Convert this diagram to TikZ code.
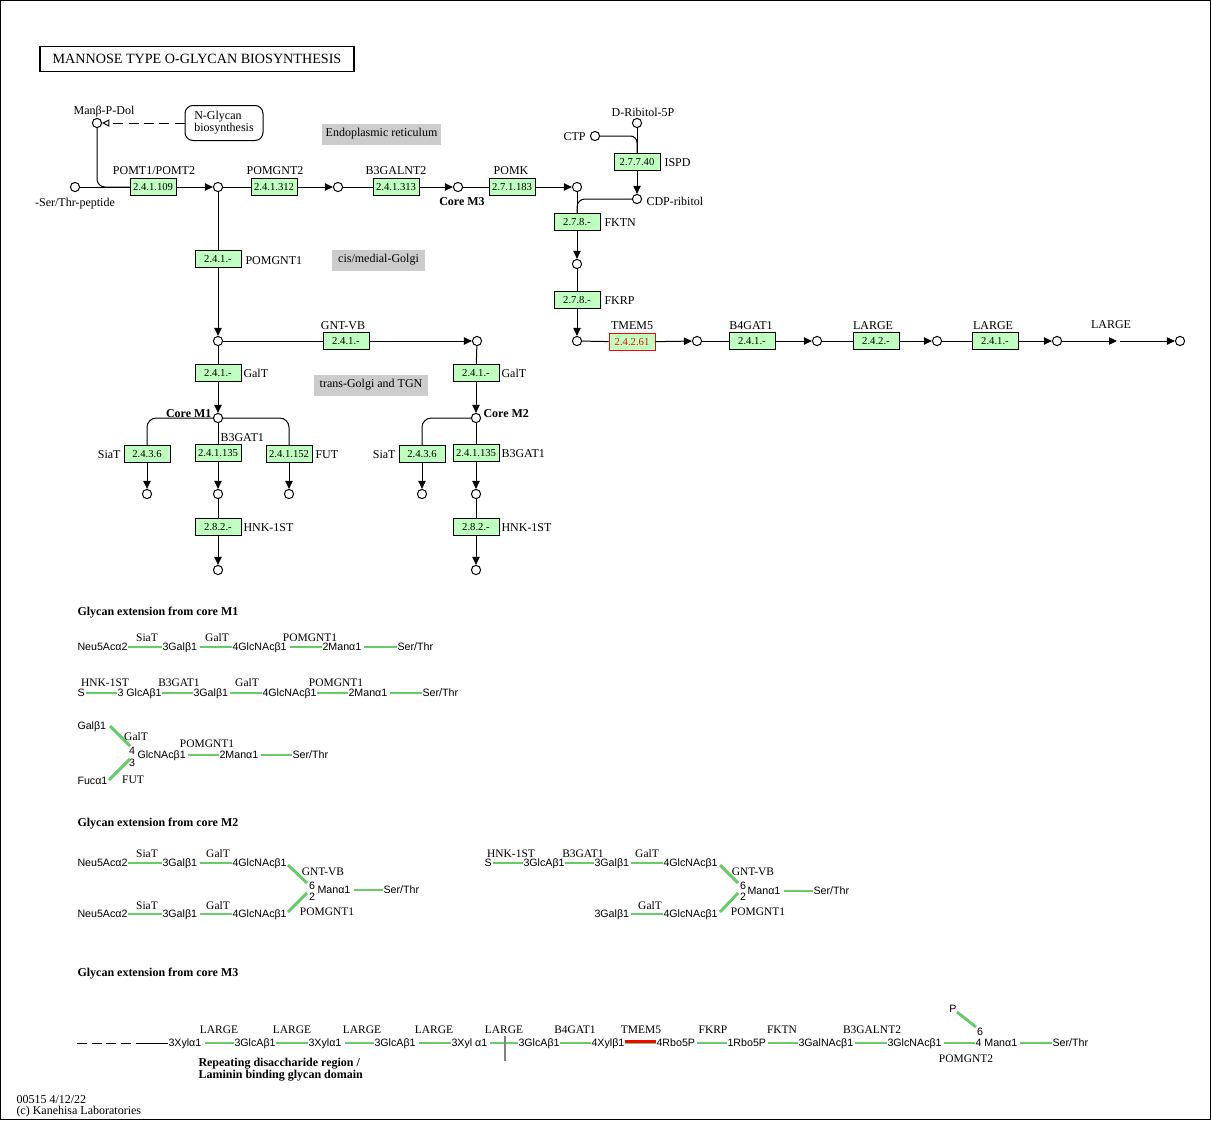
\documentclass[tikz,border=0pt]{standalone}
\usepackage{fontspec}
\setmainfont{Liberation Serif}
\newfontfamily\glyfont{Liberation Sans}
\usetikzlibrary{arrows.meta}
\definecolor{enzgreen}{RGB}{191,255,191}
\definecolor{glygreen}{RGB}{102,204,102}
\definecolor{regiongray}{RGB}{204,204,204}
\begin{document}
\begin{tikzpicture}[x=0.75pt,y=-0.75pt,line width=0.75pt,
 enz/.style={draw, fill=enzgreen, minimum width=34.5pt, minimum height=12.75pt, inner sep=0pt, font=\fontsize{8}{9}\selectfont},
 cpd/.style={circle, draw, fill=white, minimum size=6.9pt, inner sep=0pt},
 lbl/.style={inner sep=0pt, font=\fontsize{9}{10}\selectfont},
 blbl/.style={inner sep=0pt, font=\fontsize{9}{10}\selectfont\bfseries},
 region/.style={fill=regiongray, minimum height=15.75pt, inner sep=0pt, font=\fontsize{9}{10}\selectfont},
 rxn/.style={-{Triangle[length=6pt,width=5.5pt]}},
 gt/.style={inner sep=0pt, anchor=west, font=\glyfont\fontsize{8}{9}\selectfont, text height=6.2pt, text depth=1.2pt},
 num/.style={inner sep=0pt, font=\glyfont\fontsize{8}{9}\selectfont},
 el/.style={inner sep=0pt, font=\fontsize{8.6}{10}\selectfont},
 gl/.style={draw=glygreen, line width=2.2pt}]
\useasboundingbox (0,0) rectangle (1212,1121);
\draw (0.5,0.5) rectangle (1210.5,1119.5);

% title
\node[draw, line width=1.4pt, minimum width=235.5pt, minimum height=18.75pt, inner sep=0pt, font=\fontsize{10.6}{12}\selectfont] (title) at (197,59) {MANNOSE TYPE O-GLYCAN BIOSYNTHESIS};

% regions
\node[region, minimum width=89.25pt] (er) at (381.5,134) {Endoplasmic reticulum};
\node[region, minimum width=69.75pt] (cmg) at (378.5,260) {cis/medial-Golgi};
\node[region, minimum width=85.5pt] (tgn) at (371,385) {trans-Golgi and TGN};

% top row
\node[cpd] (sst) at (75,187) {};
\node[lbl] (sstl) at (75,204) {-Ser/Thr-peptide};
\node[cpd] (mpd) at (97,123) {};
\node[lbl] (mpdl) at (104,112) {Manβ-P-Dol};
\node[draw, rounded corners=6pt, minimum width=58.5pt, minimum height=26.25pt, inner sep=0pt, align=left, font=\fontsize{9}{9}\selectfont] (ngl) at (224,123) {N-Glycan\\biosynthesis};
\draw[dashed, dash pattern=on 7.5pt off 4pt, -{Triangle[open,length=5.5pt,width=5.5pt]}] (ngl) -- (mpd);

\node[enz] (e1) at (153,187) {2.4.1.109};
\node[lbl] (e1l) at (154,171) {POMT1/POMT2};
\node[cpd] (c1) at (218,187) {};
\draw (sst) -- (e1);
\draw[rxn] (e1) -- (c1);
\draw[rounded corners=6pt] (mpd) |- (e1.west);

\node[enz] (e2) at (274,187) {2.4.1.312};
\node[lbl] (e2l) at (275,171) {POMGNT2};
\node[cpd] (c2) at (338,187) {};
\draw (c1) -- (e2);
\draw[rxn] (e2) -- (c2);

\node[enz] (e3) at (396,187) {2.4.1.313};
\node[lbl] (e3l) at (396,171) {B3GALNT2};
\node[cpd] (c3) at (458,187) {};
\node[blbl] (c3l) at (462,201.5) {Core M3};
\draw (c2) -- (e3);
\draw[rxn] (e3) -- (c3);

\node[enz] (e4) at (512,187) {2.7.1.183};
\node[lbl] (e4l) at (511,171) {POMK};
\node[cpd] (c4) at (577,187) {};
\draw (c3) -- (e4);
\draw[rxn] (e4) -- (c4);

% ribitol
\node[cpd] (rib) at (637,123) {};
\node[lbl] (ribl) at (643,112) {D-Ribitol-5P};
\node[cpd] (ctp) at (595,136) {};
\node[lbl, anchor=east] (ctpl) at (586,137) {CTP};
\node[enz] (e5) at (637,162) {2.7.7.40};
\node[lbl, anchor=west] (e5l) at (664,162.5) {ISPD};
\node[cpd] (cdp) at (637,199) {};
\node[lbl, anchor=west] (cdpl) at (646,201.5) {CDP-ribitol};
\draw (rib) -- (e5);
\draw[rounded corners=5pt] (ctp) -| (e5.north);
\draw[rxn] (e5) -- (cdp);

\node[enz] (e6) at (577,222) {2.7.8.-};
\node[lbl, anchor=west] (e6l) at (604,222.5) {FKTN};
\draw (c4) -- (e6);
\draw[rounded corners=6pt] (cdp) -| (e6.north);
\node[cpd] (c5) at (577,264) {};
\draw[rxn] (e6) -- (c5);
\node[enz] (e7) at (577,300) {2.7.8.-};
\node[lbl, anchor=west] (e7l) at (604,300.5) {FKRP};
\node[cpd] (c6) at (577,341) {};
\draw (c5) -- (e7);
\draw[rxn] (e7) -- (c6);

% TMEM5 row
\node[enz, draw=red, text=red] (e8) at (632,342) {2.4.2.61};
\node[lbl] (e8l) at (632,326) {TMEM5};
\node[cpd] (c7) at (697,341) {};
\draw (c6) -- (e8);
\draw[rxn] (e8) -- (c7);
\node[enz] (e9) at (752,341) {2.4.1.-};
\node[lbl] (e9l) at (751,326) {B4GAT1};
\node[cpd] (c8) at (817,341) {};
\draw (c7) -- (e9);
\draw[rxn] (e9) -- (c8);
\node[enz] (e10) at (876,341) {2.4.2.-};
\node[lbl] (e10l) at (873,326) {LARGE};
\node[cpd] (c9) at (937,341) {};
\draw (c8) -- (e10);
\draw[rxn] (e10) -- (c9);
\node[enz] (e11) at (995,341) {2.4.1.-};
\node[lbl] (e11l) at (993,326) {LARGE};
\node[cpd] (c10) at (1057,341) {};
\draw (c9) -- (e11);
\draw[rxn] (e11) -- (c10);
\coordinate (gapa) at (1117,341);
\coordinate (gapb) at (1120,341);
\node[cpd] (c11) at (1180,341) {};
\node[lbl] (c11l) at (1111,325) {LARGE};
\draw[rxn] (c10) -- (gapa);
\draw[rxn] (gapb) -- (c11);

% left vertical
\node[enz] (e12) at (218,259) {2.4.1.-};
\node[lbl, anchor=west] (e12l) at (245,260.5) {POMGNT1};
\node[cpd] (c12) at (218,341) {};
\draw (c1) -- (e12);
\draw[rxn] (e12) -- (c12);
\node[enz] (e13) at (346,341) {2.4.1.-};
\node[lbl] (e13l) at (343,326) {GNT-VB};
\node[cpd] (c13) at (477,341) {};
\draw (c12) -- (e13);
\draw[rxn] (e13) -- (c13);
\node[enz] (e14) at (218,373) {2.4.1.-};
\node[lbl, anchor=west] (e14l) at (243,373.5) {GalT};
\node[cpd] (m1) at (218,418) {};
\draw (c12) -- (e14);
\draw[rxn] (e14) -- (m1);
\node[enz] (e15) at (476,373) {2.4.1.-};
\node[lbl, anchor=west] (e15l) at (501,373.5) {GalT};
\node[cpd] (m2) at (476,418) {};
\draw (c13) -- (e15);
\draw[rxn] (e15) -- (m2);

% Core M1
\node[blbl, anchor=east] (m1l) at (212,413.5) {Core M1};
\node[enz] (e16) at (147,454) {2.4.3.6};
\node[lbl, anchor=east] (e16l) at (121,454.5) {SiaT};
\node[cpd] (c16) at (147,494) {};
\draw[rounded corners=7pt] (m1) -| (e16.north);
\draw[rxn] (e16) -- (c16);
\node[enz] (e17) at (218,453) {2.4.1.135};
\node[lbl, anchor=west] (e17l) at (220,438) {B3GAT1};
\node[cpd] (c17) at (218,494) {};
\draw (m1) -- (e17);
\draw[rxn] (e17) -- (c17);
\node[enz] (e18) at (218,527) {2.8.2.-};
\node[lbl, anchor=west] (e18l) at (243,527.5) {HNK-1ST};
\node[cpd] (c18) at (218,570) {};
\draw (c17) -- (e18);
\draw[rxn] (e18) -- (c18);
\node[enz] (e19) at (289,454) {2.4.1.152};
\node[lbl, anchor=west] (e19l) at (315,454.5) {FUT};
\node[cpd] (c19) at (289,494) {};
\draw[rounded corners=7pt] (m1) -| (e19.north);
\draw[rxn] (e19) -- (c19);

% Core M2
\node[blbl, anchor=west] (m2l) at (483,413.5) {Core M2};
\node[enz] (e20) at (422,454) {2.4.3.6};
\node[lbl, anchor=east] (e20l) at (396,454.5) {SiaT};
\node[cpd] (c20) at (422,494) {};
\draw[rounded corners=7pt] (m2) -| (e20.north);
\draw[rxn] (e20) -- (c20);
\node[enz] (e21) at (476,453) {2.4.1.135};
\node[lbl, anchor=west] (e21l) at (501,453.5) {B3GAT1};
\node[cpd] (c21) at (476,494) {};
\draw (m2) -- (e21);
\draw[rxn] (e21) -- (c21);
\node[enz] (e22) at (476,527) {2.8.2.-};
\node[lbl, anchor=west] (e22l) at (501,527.5) {HNK-1ST};
\node[cpd] (c22) at (476,570) {};
\draw (c21) -- (e22);
\draw[rxn] (e22) -- (c22);

% ===== Glycan extension from core M1 =====
\node[blbl, anchor=west] (s1) at (77,612.5) {Glycan extension from core M1};
\node[gt] (a1) at (77,647) {Neu5Acα2};
\node[gt] (a2) at (162,647) {3Galβ1};
\node[gt] (a3) at (232,647) {4GlcNAcβ1};
\node[gt] (a4) at (322,647) {2Manα1};
\node[gt] (a5) at (397,647) {Ser/Thr};
\draw[gl] (a1.east) -- (a2.west);
\draw[gl] ([xshift=2pt]a2.east) -- (a3.west);
\draw[gl] ([xshift=2pt]a3.east) -- (a4.west);
\draw[gl] ([xshift=2pt]a4.east) -- (a5.west);
\node[el] (a1l) at (147,638) {SiaT};
\node[el] (a2l) at (217,638) {GalT};
\node[el] (a3l) at (310,638) {POMGNT1};

\node[gt] (b1) at (77,693) {S};
\node[gt] (b2) at (117,693) {3 GlcAβ1};
\node[gt] (b3) at (193,693) {3Galβ1};
\node[gt] (b4) at (262,693) {4GlcNAcβ1};
\node[gt] (b5) at (348,693) {2Manα1};
\node[gt] (b6) at (422,693) {Ser/Thr};
\draw[gl] ([xshift=1pt]b1.east) -- (b2.west);
\draw[gl] (b2.east) -- (b3.west);
\draw[gl] ([xshift=1pt]b3.east) -- (b4.west);
\draw[gl] (b4.east) -- (b5.west);
\draw[gl] ([xshift=2pt]b5.east) -- (b6.west);
\node[el] (b1l) at (105,683) {HNK-1ST};
\node[el] (b2l) at (179,683) {B3GAT1};
\node[el] (b3l) at (247,683) {GalT};
\node[el] (b4l) at (336,683) {POMGNT1};

\node[gt] (r1) at (77,726) {Galβ1};
\node[gt] (r2) at (77,781) {Fucα1};
\node[num] (r4) at (132,751) {4};
\node[num] (r3) at (132,763) {3};
\node[gt] (r5) at (137,755) {GlcNAcβ1};
\node[gt] (r6) at (219,755) {2Manα1};
\node[gt] (r7) at (292,755) {Ser/Thr};
\coordinate (r1e) at (110,726);
\coordinate (r4e) at (130,746);
\coordinate (r2e) at (109,780);
\coordinate (r3e) at (130,759);
\draw[gl] (r1e) -- (r4e);
\draw[gl] (r2e) -- (r3e);
\draw[gl] ([xshift=1pt]r5.east) -- (r6.west);
\draw[gl] ([xshift=2pt]r6.east) -- (r7.west);
\node[el] (r1l) at (136,737) {GalT};
\node[el] (r2l) at (133,780) {FUT};
\node[el] (r5l) at (207,744) {POMGNT1};

% ===== Glycan extension from core M2 =====
\node[blbl, anchor=west] (s2) at (77,823.5) {Glycan extension from core M2};
\node[gt] (d1) at (77,863) {Neu5Acα2};
\node[gt] (d2) at (162,863) {3Galβ1};
\node[gt] (d3) at (232,863) {4GlcNAcβ1};
\draw[gl] (d1.east) -- (d2.west);
\draw[gl] ([xshift=2pt]d2.east) -- (d3.west);
\node[el] (d1l) at (147,854) {SiaT};
\node[el] (d2l) at (218,854) {GalT};
\node[gt] (f1) at (77,914) {Neu5Acα2};
\node[gt] (f2) at (162,914) {3Galβ1};
\node[gt] (f3) at (232,914) {4GlcNAcβ1};
\draw[gl] (f1.east) -- (f2.west);
\draw[gl] ([xshift=2pt]f2.east) -- (f3.west);
\node[el] (f1l) at (147,906) {SiaT};
\node[el] (f2l) at (218,906) {GalT};
\node[num] (m6) at (312,886) {6};
\node[num] (m2n) at (312,897) {2};
\node[gt] (mn) at (317,890) {Manα1};
\node[gt] (ms) at (383,890) {Ser/Thr};
\draw[gl] ([xshift=2pt]mn.east) -- (ms.west);
\coordinate (d3e) at (288,865);
\coordinate (m6e) at (307,883);
\coordinate (f3e) at (288,912);
\coordinate (m2e) at (307,893);
\draw[gl] (d3e) -- (m6e);
\draw[gl] (f3e) -- (m2e);
\node[el] (d3l) at (323,872) {GNT-VB};
\node[el] (f3l) at (327,912) {POMGNT1};

\node[gt] (h1) at (484,863) {S};
\node[gt] (h2) at (523,863) {3GlcAβ1};
\node[gt] (h3) at (594,863) {3Galβ1};
\node[gt] (h4) at (663,863) {4GlcNAcβ1};
\draw[gl] ([xshift=1pt]h1.east) -- (h2.west);
\draw[gl] (h2.east) -- (h3.west);
\draw[gl] ([xshift=1pt]h3.east) -- (h4.west);
\node[el] (h1l) at (511,854) {HNK-1ST};
\node[el] (h2l) at (583,854) {B3GAT1};
\node[el] (h3l) at (647,854) {GalT};
\node[gt] (k3) at (594,914) {3Galβ1};
\node[gt] (k4) at (663,914) {4GlcNAcβ1};
\draw[gl] ([xshift=1pt]k3.east) -- (k4.west);
\node[el] (k3l) at (650,906) {GalT};
\node[num] (n6) at (743,886) {6};
\node[num] (n2) at (743,897) {2};
\node[gt] (nm) at (747,891) {Manα1};
\node[gt] (ns) at (813,891) {Ser/Thr};
\draw[gl] ([xshift=2pt]nm.east) -- (ns.west);
\coordinate (h4e) at (720,865);
\coordinate (n6e) at (738,883);
\coordinate (k4e) at (720,912);
\coordinate (n2e) at (738,893);
\draw[gl] (h4e) -- (n6e);
\draw[gl] (k4e) -- (n2e);
\node[el] (h4l) at (753,872) {GNT-VB};
\node[el] (k4l) at (758,912) {POMGNT1};

% ===== Glycan extension from core M3 =====
\node[blbl, anchor=west] (s3) at (77,973.5) {Glycan extension from core M3};
\coordinate (q0) at (77,1043);
\coordinate (q1) at (131,1043);
\coordinate (q2) at (136,1043);
\draw[dash pattern=on 7.5pt off 3.4pt] (q0) -- (q1);
\node[gt] (p1) at (168,1043) {3Xylα1};
\node[gt] (p2) at (234,1043) {3GlcAβ1};
\node[gt] (p3) at (308,1043) {3Xylα1};
\node[gt] (p4) at (374,1043) {3GlcAβ1};
\node[gt] (p5) at (451,1043) {3Xyl α1};
\node[gt] (p6) at (518,1043) {3GlcAβ1};
\node[gt] (p7) at (591,1043) {4Xylβ1};
\node[gt] (p8) at (656,1043) {4Rbo5P};
\node[gt] (p9) at (727,1043) {1Rbo5P};
\node[gt] (p10) at (798,1043) {3GalNAcβ1};
\node[gt] (p11) at (887,1043) {3GlcNAcβ1};
\node[gt] (p12) at (975,1043) {4 Manα1};
\node[gt] (p13) at (1052,1043) {Ser/Thr};
\draw (q2) -- (p1.west);
\draw[gl] ([xshift=2pt]p1.east) -- (p2.west);
\draw[gl] (p2.east) -- (p3.west);
\draw[gl] ([xshift=2pt]p3.east) -- (p4.west);
\draw[gl] ([xshift=2pt]p4.east) -- (p5.west);
\draw[gl] ([xshift=2pt]p5.east) -- (p6.west);
\draw[gl] (p6.east) -- (p7.west);
\draw[gl] (p7.east) -- (p8.west);
\draw[draw=red, line width=1.8pt] ([yshift=1.1pt]p7.east) -- ([yshift=1.1pt]p8.west);
\draw[gl] ([xshift=1pt]p8.east) -- (p9.west);
\draw[gl] ([xshift=1pt]p9.east) -- (p10.west);
\draw[gl] ([xshift=1pt]p10.east) -- (p11.west);
\draw[gl] ([xshift=1pt]p11.east) -- (p12.west);
\draw[gl] ([xshift=2pt]p12.east) -- (p13.west);
\coordinate (tk1) at (505,1036);
\coordinate (tk2) at (505,1061);
\draw[draw=black!50, line width=1.3pt] (tk1) -- (tk2);
\node[el] (l1) at (219,1030) {LARGE};
\node[el] (l2) at (292,1030) {LARGE};
\node[el] (l3) at (362,1030) {LARGE};
\node[el] (l4) at (434,1030) {LARGE};
\node[el] (l5) at (504,1030) {LARGE};
\node[el] (l6) at (575,1030) {B4GAT1};
\node[el] (l7) at (641,1030) {TMEM5};
\node[el] (l8) at (713,1030) {FKRP};
\node[el] (l9) at (782,1030) {FKTN};
\node[el] (l10) at (872,1030) {B3GALNT2};
\node[num] (pp) at (953,1009) {P};
\node[num] (p6n) at (980,1032) {6};
\coordinate (ppe) at (957,1012);
\coordinate (p6e) at (976,1027);
\draw[gl] (ppe) -- (p6e);
\node[el] (l11) at (966,1059) {POMGNT2};
\node[inner sep=0pt, anchor=north west, align=left, font=\fontsize{9}{9}\selectfont\bfseries] (rep) at (198,1058) {Repeating disaccharide region /\\Laminin binding glycan domain};

% footer
\node[lbl, anchor=west] (ft1) at (16,1099.5) {00515 4/12/22};
\node[lbl, anchor=west] (ft2) at (16,1111.5) {(c) Kanehisa Laboratories};
\end{tikzpicture}
\end{document}
